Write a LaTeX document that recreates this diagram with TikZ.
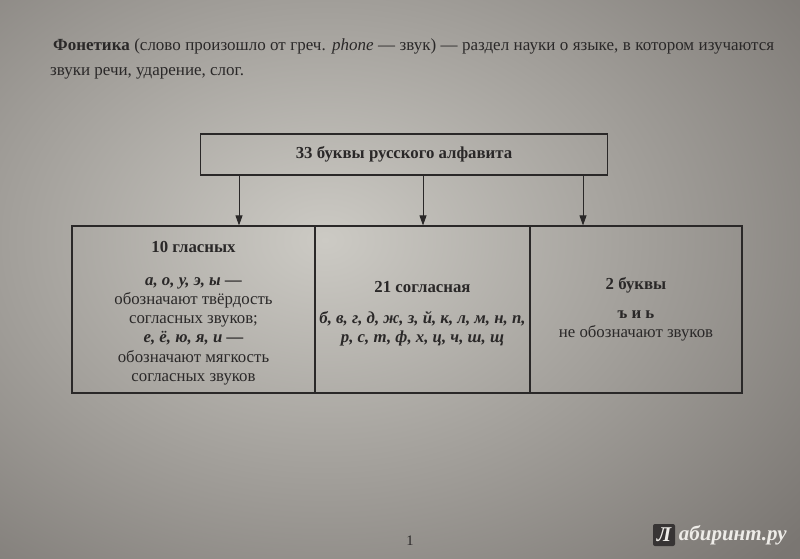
\documentclass[tikz,border=0pt]{standalone}
\usepackage{fontspec}
\setmainfont{Liberation Serif}
\usetikzlibrary{arrows.meta}
\definecolor{ink}{RGB}{42,40,40}
\definecolor{paperA}{RGB}{204,202,196}
\definecolor{paperC}{RGB}{122,118,114}
\definecolor{markbg}{RGB}{55,52,52}
\definecolor{markfg}{RGB}{238,236,232}
\tikzset{
  box/.style={draw=ink, line width=1.2pt, inner sep=0pt},
  cell/.style={draw=ink, line width=1.2pt, inner sep=0pt, minimum height=167pt},
  celltext/.style={align=center, text=ink, inner sep=0pt, font=\fontsize{16.8}{19.2}\selectfont},
  arr/.style={draw=ink, line width=0.9pt, -{Triangle[length=10pt,width=7pt]}},
  txt/.style={text=ink, inner sep=0pt, font=\fontsize{17}{20}\selectfont}
}
\begin{document}
\begin{tikzpicture}[x=1pt,y=-1pt]
\useasboundingbox (0,0) rectangle (800,558);
\begin{scope}
\clip (0,0) rectangle (800,558);
\shade[inner color=paperA, outer color=paperC] (-300,-220) rectangle (950,700);
\end{scope}
% paragraph
\node[txt, anchor=base west] (p1) at (53,50) {\makebox[721pt][s]{\textbf{Фонетика} (слово произошло от греч. \textit{phone}~— звук)~— раздел науки о языке, в котором изучаются}};
\node[txt, anchor=base west] (p2) at (50,75) {звуки речи, ударение, слог.};
% top box
\node[box, txt, minimum width=407pt, minimum height=41pt, font=\fontsize{16.8}{19}\selectfont] (top) at (404,154.5) {\textbf{33 буквы русского алфавита}};
% cells
\node[cell, minimum width=243pt] (c1) at (193.5,309.5) {};
\node[cell, minimum width=215pt] (c2) at (422.5,309.5) {};
\node[cell, minimum width=212pt] (c3) at (636,309.5) {};
\node[celltext] (t1) at (193.5,313) {\textbf{10 гласных}\\[14pt]
\textbf{\textit{а, о, у, э, ы —}}\\ обозначают твёрдость\\ согласных звуков;\\
\textbf{\textit{е, ё, ю, я, и —}}\\ обозначают мягкость\\ согласных звуков};
\node[celltext] (t2) at (422.5,313.5) {\textbf{21 согласная}\\[12pt]
\textbf{\textit{б, в, г, д, ж, з, й, к, л, м, н, п,}}\\ \textbf{\textit{р, с, т, ф, х, ц, ч, ш, щ}}};
\node[celltext] (t3) at (636,309) {\textbf{2 буквы}\\[10pt]
\textbf{ъ и ь}\\ не обозначают звуков};
% arrows
\coordinate (a1) at (239,0);
\coordinate (a2) at (423,0);
\coordinate (a3) at (583,0);
\draw[arr] (top.south -| a1) -- (c1.north -| a1);
\draw[arr] (top.south -| a2) -- (c2.north -| a2);
\draw[arr] (top.south -| a3) -- (c3.north -| a3);
% page number
\node[txt, font=\fontsize{14.5}{16}\selectfont] (pn) at (410,541) {1};
% watermark
\node[fill=markbg, rounded corners=2pt, minimum width=22pt, minimum height=22pt, inner sep=0pt,
  text=markfg, font=\fontsize{21}{22}\selectfont\bfseries\itshape] (wl) at (664,535) {Л};
\node[anchor=west, inner sep=0pt, text=markfg, font=\fontsize{21}{22}\selectfont\bfseries\itshape] (wt) at (wl.east) {\,абиринт.ру};
\end{tikzpicture}
\end{document}
